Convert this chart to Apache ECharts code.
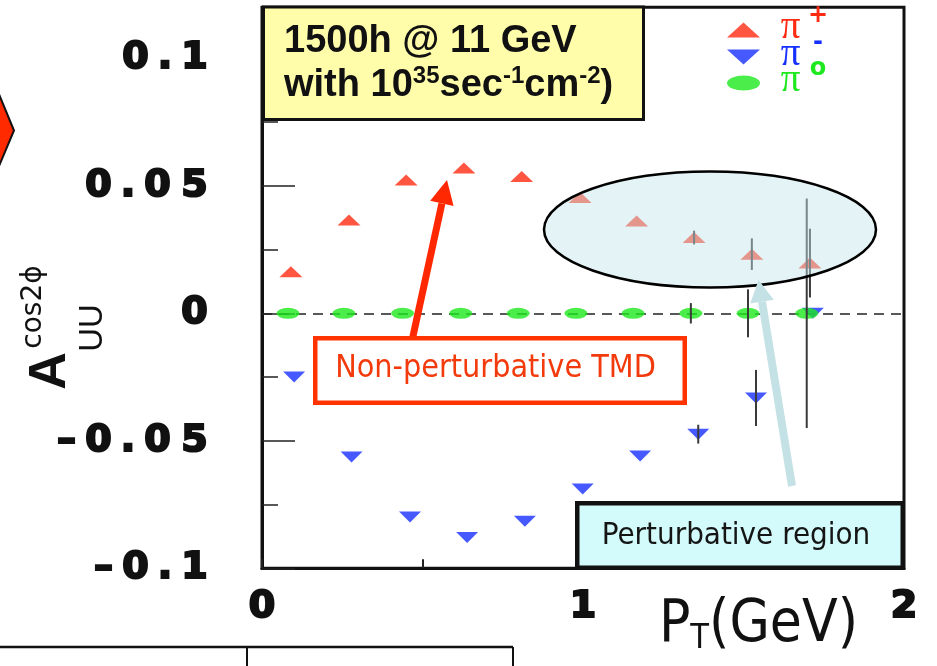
<!DOCTYPE html>
<html><head><meta charset="utf-8">
<script src="https://cdn.jsdelivr.net/npm/echarts@6/dist/echarts.min.js"></script>
<style>html,body{margin:0;padding:0;background:#fff}#c{width:937px;height:666px}</style>
</head><body><div id="c"></div>
<script>
// ---- data ----
const xTickLabels = ['0', '1', '2'];
const yTickLabels = ['-0.1', '-0.05', '0', '0.05', '0.1'];
const seriesNames = ['π+', 'π-', 'π0'];

const piPlusX   = [0.090, 0.271, 0.449, 0.629, 0.809, 0.991, 1.167, 1.346, 1.526, 1.707];
const piPlusY   = [0.0163, 0.0366, 0.0523, 0.0570, 0.0536, 0.0454, 0.0362, 0.0297, 0.0232, 0.0197];
const piPlusErr = [0, 0, 0, 0, 0, 0, 0, 0.0027, 0.0062, 0.0135];

const piMinusX   = [0.100, 0.279, 0.461, 0.639, 0.819, 0.999, 1.178, 1.359, 1.539, 1.716];
const piMinusY   = [-0.0250, -0.0564, -0.0799, -0.0879, -0.0815, -0.0689, -0.0560, -0.0474, -0.0332, 0.0000];
const piMinusErr = [0, 0, 0, 0, 0, 0, 0, 0.0037, 0.0110, 0];

const piZeroX   = [0.081, 0.255, 0.438, 0.619, 0.798, 0.978, 1.156, 1.336, 1.514, 1.697];
const piZeroY   = [0, 0, 0, 0, 0, 0, 0, 0, 0, 0];
const piZeroErr = [0, 0, 0, 0, 0, 0, 0, 0.0040, 0.0094, 0.0450];

// ---- styling ----
const RED = '#ff2a12', BLUE = '#1630ff', GREEN = '#1ee81e';
const WIDE_FONT = '"DejaVu Sans"';
const SANS = '"DejaVu Sans Condensed","Liberation Sans",sans-serif';

function wide(s) {
  return s.split('').map(c => c === '.' ? '{p|.}' : (c === '-' ? '{m|–}' : '{d|' + c + '}')).join('');
}
const digitBase = { fontFamily: WIDE_FONT, fontWeight: 'bold', fontSize: 38, align: 'center', color: '#111',
                    lineHeight: 42, textBorderColor: '#111', textBorderWidth: 2.2 };
const wideRich = {
  d: Object.assign({}, digitBase, { width: 37 }),
  p: Object.assign({}, digitBase, { width: 22 }),
  m: Object.assign({}, digitBase, { width: 27 })
};
function labelFor(list, v) {
  for (const s of list) if (Math.abs(parseFloat(s) - v) < 1e-9) return wide(s);
  return '';
}
function pairs(xs, ys) { return xs.map((x, i) => [x, ys[i]]); }
function errData(xs, ys, es) {
  const out = [];
  xs.forEach((x, i) => { if (es[i] > 0) out.push([x, ys[i] - es[i], ys[i] + es[i]]); });
  return out;
}
function errRender(params, api) {
  const x = api.value(0);
  const p1 = api.coord([x, api.value(1)]);
  const p2 = api.coord([x, api.value(2)]);
  return { type: 'line', shape: { x1: p1[0], y1: p1[1], x2: p2[0], y2: p2[1] },
           style: { stroke: '#3a3a3a', lineWidth: 2 } };
}

// legend: one small legend per series so each row sits exactly where the reference has it
function piStyle(color) {
  return { fontFamily: '"Liberation Serif","DejaVu Serif",serif', fontSize: 39, color: color, width: 31, align: 'center',
           height: 28, lineHeight: 32, verticalAlign: 'top' };
}
function supStyle(color) {
  return { fontFamily: WIDE_FONT, fontWeight: 'bold', fontSize: 24, color: color, width: 24, align: 'center',
           height: 4, lineHeight: 4, verticalAlign: 'top' };
}
const legendRich = {
  z: { fontSize: 10, width: 10, height: 2, lineHeight: 32 },
  pr: piStyle(RED), pb: piStyle(BLUE), pg: piStyle(GREEN),
  sr: supStyle(RED), sb: supStyle(BLUE), sg: supStyle(GREEN)
};
const legendFmt = {
  'π+': '{z| }{pr|π}{sr|+}',
  'π-': '{z| }{pb|π}{sb|-}',
  'π0': '{z| }{pg|π}{sg|o}'
};
const legendTops = [4, 31, 57];
const legends = seriesNames.map((n, i) => ({
  orient: 'vertical', left: 727, top: legendTops[i], padding: 0,
  itemWidth: 33, itemHeight: 15, symbolKeepAspect: false, selectedMode: false,
  data: [n], formatter: name => legendFmt[name], textStyle: { rich: legendRich }
}));

const DOWN_TRI = 'path://M0,0L20,0L10,10Z';
const ELLIPSE = 'path://M0,5A10,5,0,1,0,20,5A10,5,0,1,0,0,5Z';

const chart = echarts.init(document.getElementById('c'));
chart.setOption({
  animation: false,
  backgroundColor: '#fff',
  grid: { left: 262, right: 33, top: 7.3, bottom: 97.7, containLabel: false, outerBoundsMode: 'none',
          show: true, borderColor: '#111', borderWidth: 3, backgroundColor: 'transparent' },
  xAxis: {
    type: 'value', min: 0, max: 2, interval: 0.5,
    axisLine: { show: true, onZero: false, lineStyle: { color: '#111', width: 3 } },
    axisTick: { show: true, inside: true, length: 9, lineStyle: { color: '#222', width: 2 } },
    splitLine: { show: false },
    axisLabel: { show: true, margin: 18, showMinLabel: true, showMaxLabel: true,
                 formatter: v => labelFor(xTickLabels, v), rich: wideRich },
    name: '{p|P}{t|T}{p|(GeV)}',
    nameLocation: 'end', nameGap: -46, nameMoveOverlap: false,
    nameTextStyle: {
      align: 'right', verticalAlign: 'top', padding: [28, 0, 0, 0],
      rich: {
        p: { fontFamily: SANS, fontSize: 58, lineHeight: 60, color: '#111' },
        t: { fontFamily: SANS, fontSize: 34, lineHeight: 8, verticalAlign: 'bottom', color: '#111' }
      }
    }
  },
  yAxis: {
    type: 'value', min: -0.1, max: 0.12, interval: 0.05,
    axisLine: { show: true, onZero: false, lineStyle: { color: '#111', width: 3 } },
    axisTick: { show: true, inside: true, length: 33, lineStyle: { color: '#222', width: 1.5 } },
    minorTick: { show: true, splitNumber: 2, length: 16, lineStyle: { color: '#222', width: 1.5 } },
    splitLine: { show: false },
    axisLabel: { show: true, margin: 49, align: 'right', showMinLabel: true, showMaxLabel: false,
                 formatter: v => labelFor(yTickLabels, v), rich: wideRich }
  },
  legend: legends,
  series: [
    { name: seriesNames[0], type: 'scatter', symbol: 'triangle', symbolSize: [23, 11],
      itemStyle: { color: RED }, data: pairs(piPlusX, piPlusY), z: 3, silent: true },
    { name: seriesNames[1], type: 'scatter', symbol: DOWN_TRI, symbolSize: [22, 11], symbolKeepAspect: false,
      itemStyle: { color: BLUE }, data: pairs(piMinusX, piMinusY), z: 3, silent: true },
    { name: seriesNames[2], type: 'scatter', symbol: ELLIPSE, symbolSize: [23, 11], symbolKeepAspect: false,
      itemStyle: { color: GREEN }, data: pairs(piZeroX, piZeroY), z: 3, silent: true,
      markLine: { silent: true, symbol: ['none', 'none'], label: { show: false }, z: 1,
                  lineStyle: { type: [10, 7], color: '#222', width: 1.5 }, data: [{ yAxis: 0 }] } },
    { type: 'custom', renderItem: errRender, data: errData(piPlusX, piPlusY, piPlusErr), encode: { x: 0, y: [1, 2] }, z: 4, silent: true },
    { type: 'custom', renderItem: errRender, data: errData(piMinusX, piMinusY, piMinusErr), encode: { x: 0, y: [1, 2] }, z: 4, silent: true },
    { type: 'custom', renderItem: errRender, data: errData(piZeroX, piZeroY, piZeroErr), encode: { x: 0, y: [1, 2] }, z: 4, silent: true }
  ],
  graphic: [
    // highlighted perturbative region
    { type: 'ellipse', z: 50, silent: true, shape: { cx: 710, cy: 229.5, rx: 166, ry: 58 },
      style: { fill: 'rgba(195,228,233,0.45)', stroke: '#000', lineWidth: 2.5 } },
    // red arrow
    { type: 'line', z: 55, silent: true, shape: { x1: 412.6, y1: 338, x2: 441.9, y2: 203.4 },
      style: { stroke: '#ff2800', lineWidth: 7 } },
    { type: 'polygon', z: 55, silent: true, shape: { points: [[447, 180], [430.2, 200.8], [453.6, 206]] },
      style: { fill: '#ff2800' } },
    // light blue arrow
    { type: 'line', z: 55, silent: true, shape: { x1: 792, y1: 486, x2: 762, y2: 301.7 },
      style: { stroke: '#c4e2e5', lineWidth: 8 } },
    { type: 'polygon', z: 55, silent: true, shape: { points: [[758.5, 280], [750.2, 303.6], [773.8, 299.8]] },
      style: { fill: '#c4e2e5' } },
    // non-perturbative box
    { type: 'rect', z: 60, silent: true, shape: { x: 315.25, y: 338.25, width: 369.5, height: 64.5 },
      style: { fill: '#fff', stroke: '#ff3300', lineWidth: 4.5 } },
    { type: 'text', z: 61, silent: true, x: 495.5, y: 369,
      style: { text: 'Non-perturbative TMD', fontFamily: SANS, fontSize: 32, fill: '#f23a0c', align: 'center', verticalAlign: 'middle' } },
    // perturbative region box
    { type: 'rect', z: 60, silent: true, shape: { x: 577.25, y: 503.25, width: 325.5, height: 64.5 },
      style: { fill: '#d3fbfb', stroke: '#111', lineWidth: 4.5 } },
    { type: 'text', z: 61, silent: true, x: 736, y: 536,
      style: { text: 'Perturbative region', fontFamily: SANS, fontSize: 31, fill: '#151515', align: 'center', verticalAlign: 'middle' } },
    // yellow info box
    { type: 'rect', z: 60, silent: true, shape: { x: 263.5, y: 7, width: 380, height: 112.5 },
      style: { fill: '#fffcaa', stroke: '#111', lineWidth: 3 } },
    { type: 'text', z: 61, silent: true, x: 284, y: 41.5,
      style: { text: '1500h @ 11 GeV', fontFamily: '"Liberation Sans",Arial', fontWeight: 'bold', fontSize: 38, fill: '#111', align: 'left', verticalAlign: 'middle' } },
    { type: 'text', z: 61, silent: true, x: 284, y: 86,
      style: { text: '{b|with 10}{s|35}{b|sec}{s|-1}{b|cm}{s|-2}{b|)}', align: 'left', verticalAlign: 'middle', fill: '#111',
        rich: {
          b: { fontFamily: '"Liberation Sans",Arial', fontWeight: 'bold', fontSize: 38, lineHeight: 44, fill: '#111', color: '#111' },
          s: { fontFamily: '"Liberation Sans",Arial', fontWeight: 'bold', fontSize: 24, lineHeight: 36, verticalAlign: 'top', fill: '#111', color: '#111' }
        } } },
    // y axis title  A_UU^{cos2phi}
    { type: 'text', z: 61, silent: true, x: 51, y: 371, rotation: Math.PI / 2,
      style: { text: 'A', fontFamily: '"Liberation Sans",Arial', fontWeight: 'bold', fontSize: 52, fill: '#111', align: 'center', verticalAlign: 'middle' } },
    { type: 'text', z: 61, silent: true, x: 34, y: 307, rotation: Math.PI / 2,
      style: { text: 'cos2ϕ', fontFamily: '"DejaVu Sans"', fontSize: 28, fill: '#111', align: 'center', verticalAlign: 'middle' } },
    { type: 'text', z: 61, silent: true, x: 93, y: 328, rotation: Math.PI / 2,
      style: { text: 'UU', fontFamily: '"Liberation Sans",Arial', fontSize: 33, fill: '#111', align: 'center', verticalAlign: 'middle' } },
    // slide decorations: red arrow shape at left edge and table lines at bottom
    { type: 'polygon', z: 61, silent: true, shape: { points: [[-6, 82], [14, 130.5], [-6, 178]] },
      style: { fill: '#ff2a00', stroke: '#111', lineWidth: 2 } },
    { type: 'polyline', z: 61, silent: true, shape: { points: [[0, 647], [513, 647]] },
      style: { stroke: '#111', lineWidth: 2.5 } },
    { type: 'line', z: 61, silent: true, shape: { x1: 247, y1: 647, x2: 247, y2: 670 },
      style: { stroke: '#111', lineWidth: 2 } },
    { type: 'line', z: 61, silent: true, shape: { x1: 513, y1: 647, x2: 513, y2: 670 },
      style: { stroke: '#111', lineWidth: 2 } }
  ]
});
</script>
</body></html>
